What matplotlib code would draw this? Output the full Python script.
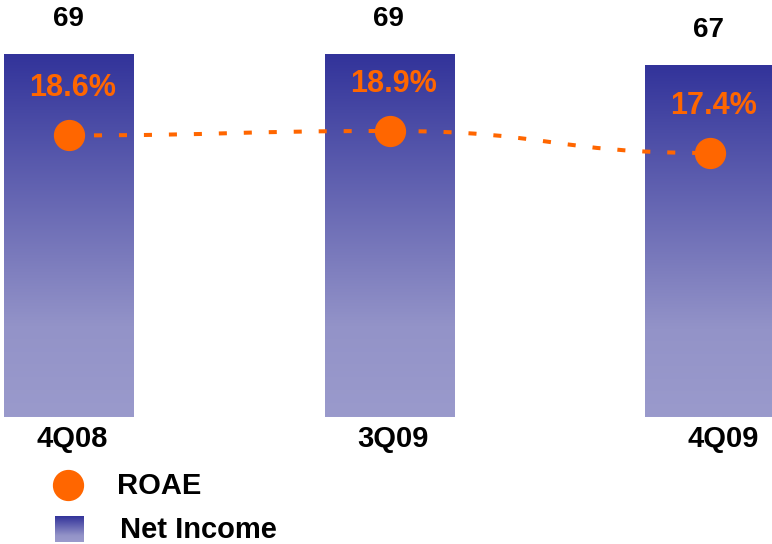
import numpy as np
import matplotlib.pyplot as plt
from matplotlib.colors import LinearSegmentedColormap
from matplotlib.path import Path
from matplotlib.patches import PathPatch

# Quarterly figures
quarters = ['4Q08', '3Q09', '4Q09']
net_income = [69, 69, 67]
roae = [18.6, 18.9, 17.4]

ORANGE = '#ff6600'
plt.rcParams['font.family'] = ['Liberation Sans', 'DejaVu Sans']

fig = plt.figure(figsize=(7.72, 5.44), dpi=100)
W, H = 772, 544

# Axes box in pixels: full width, baseline 417 px from the top
ax = fig.add_axes([0, (H - 417) / H, 1, 417 / H])
spacing = 320.5
x = np.arange(len(quarters))
xlim = (-69 / spacing, (W - 69) / spacing)
ylim = (0, 417 / (363 / 69))
ax.axis('off')

# Bars with a vertical blue gradient
grad_cmap = LinearSegmentedColormap.from_list(
    'bar_grad', [(0, '#9a9acc'), (0.25, '#9393c8'), (1, '#32339a')])
gradient = np.linspace(0, 1, 256).reshape(-1, 1)
bars = ax.bar(x, net_income, width=130 / spacing, color='none', edgecolor='none')
for rect in bars:
    x0, w, h = rect.get_x(), rect.get_width(), rect.get_height()
    im = ax.imshow(gradient, cmap=grad_cmap, origin='lower', aspect='auto',
                   extent=(x0, x0 + w, 0, h), zorder=1)
    im.set_clip_path(rect)
ax.set_xlim(*xlim)
ax.set_ylim(*ylim)

for xi, v in zip(x, net_income):
    ax.annotate(f'{v}', (xi, v), xytext=(-1, 35), textcoords='offset pixels',
                ha='center', va='center', fontsize=20, fontweight='bold')

for xi, q, dx in zip(x, quarters, [3, 3, 13]):
    ax.annotate(q, (xi, 0), xytext=(dx, -22), textcoords='offset pixels',
                ha='center', va='center', fontsize=21, fontweight='bold')

# ROAE on a secondary scale
ax2 = fig.add_axes(ax.get_position(), sharex=ax)
ax2.patch.set_visible(False)
ax2.axis('off')
ax2.set_ylim(-0.6, 27.83)

# smooth dashed connector with flat tangents at each point
verts = [(x[0], roae[0])]
codes = [Path.MOVETO]
for i in range(len(x) - 1):
    mid = (x[i] + x[i + 1]) / 2
    verts += [(mid, roae[i]), (mid, roae[i + 1]), (x[i + 1], roae[i + 1])]
    codes += [Path.CURVE4] * 3
ax2.add_patch(PathPatch(Path(verts, codes), facecolor='none', edgecolor=ORANGE,
                        lw=2.9, linestyle=(0, (2.0, 4.2)), capstyle='butt', zorder=3))
ax2.plot(x, roae, 'o', color=ORANGE, markersize=21.5, zorder=4)

for xi, r in zip(x, roae):
    ax2.annotate(f'{r}%', (xi, r), xytext=(4, 47), textcoords='offset pixels',
                 ha='center', va='center', fontsize=22, fontweight='bold', color=ORANGE)

# Legend drawn by hand so the swatch keeps the gradient
lax = fig.add_axes([0, 0, 1, 1])
lax.axis('off')
lax.plot([68], [485], 'o', color=ORANGE, markersize=21.5)
lax.text(117, 486, 'ROAE', ha='left', va='center', fontsize=21, fontweight='bold')
lax.imshow(gradient, cmap=grad_cmap, origin='upper', aspect='auto',
           extent=(55, 84, 516, 542))
lax.text(120, 530, 'Net Income', ha='left', va='center', fontsize=21, fontweight='bold')
lax.set_xlim(0, W)
lax.set_ylim(H, 0)

fig.savefig('out.png', dpi=100)
